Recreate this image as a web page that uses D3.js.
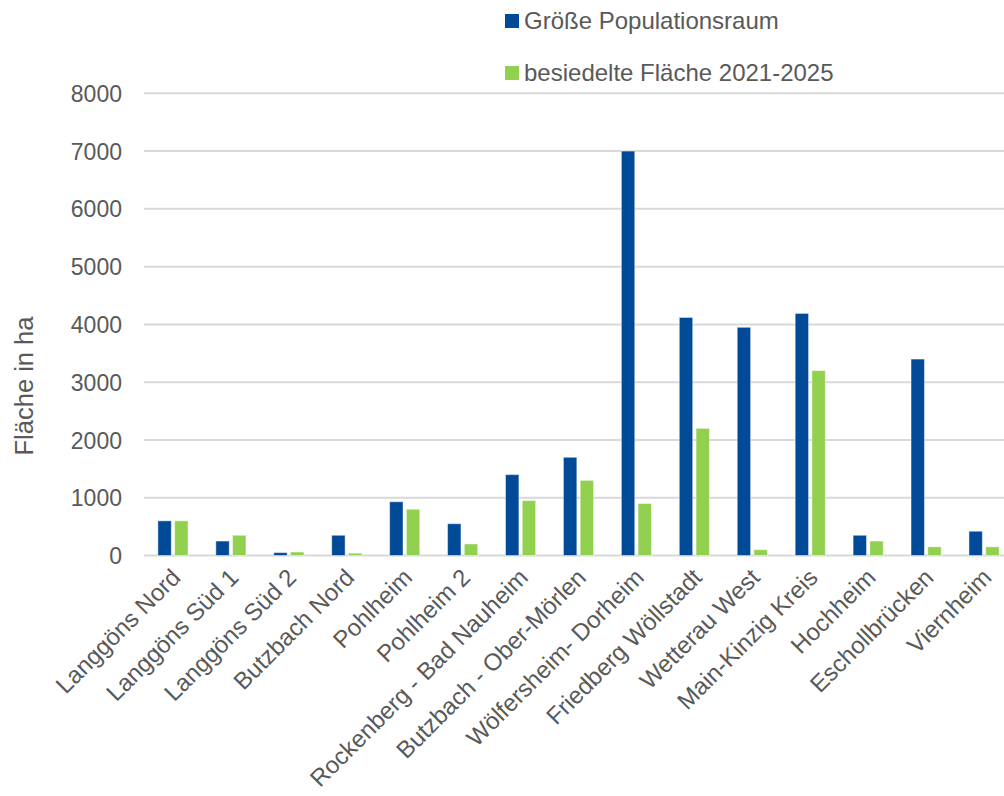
<!DOCTYPE html>
<html>
<head>
<meta charset="utf-8">
<script src="https://cdn.jsdelivr.net/npm/d3@7"></script>
<style>
  html, body { margin: 0; padding: 0; background: #fff; }
  svg { display: block; font-family: "Liberation Sans", Arial, sans-serif; }
</style>
</head>
<body>
<svg id="chart" width="1004" height="796"></svg>
<script>
// Gebiete (Kategorien der x-Achse)
const categories = [
  "Langgöns Nord", "Langgöns Süd 1", "Langgöns Süd 2", "Butzbach Nord",
  "Pohlheim", "Pohlheim 2", "Rockenberg - Bad Nauheim", "Butzbach - Ober-Mörlen",
  "Wölfersheim- Dorheim", "Friedberg Wöllstadt", "Wetterau West",
  "Main-Kinzig Kreis", "Hochheim", "Eschollbrücken", "Viernheim"
];

// Reihen (Fläche in ha)
const seriesNames = ["Größe Populationsraum", "besiedelte Fläche 2021-2025"];
const populationsraum = [600, 250, 50, 350, 930, 550, 1400, 1700, 7000, 4120, 3950, 4190, 350, 3400, 420];
const besiedelt = [600, 350, 60, 40, 800, 200, 950, 1300, 900, 2200, 100, 3200, 250, 150, 150];

const yTicks = [0, 1000, 2000, 3000, 4000, 5000, 6000, 7000, 8000];
const colors = ["#004A98", "#92D050"];
const yTitle = "Fläche in ha";

const svg = d3.select("#chart");
const textColor = "#595959";

const x0 = d3.scaleBand().domain(categories).range([144, 1013])
  .paddingInner(0.48).paddingOuter(0.24);
const x1 = d3.scaleBand().domain(seriesNames).range([0, x0.bandwidth()])
  .paddingInner(0.2);
const y = d3.scaleLinear().domain([0, 8000]).range([555.5, 93.3]);

// Gitterlinien
svg.append("g")
  .selectAll("line")
  .data(yTicks)
  .join("line")
  .attr("x1", 144).attr("x2", 1004)
  .attr("y1", d => y(d)).attr("y2", d => y(d))
  .attr("stroke", "#d9d9d9").attr("stroke-width", 2);

// y-Achse
const yAxis = d3.axisLeft(y).tickValues(yTicks).tickSize(0).tickPadding(0)
  .tickFormat(d3.format("d"));
svg.append("g")
  .attr("transform", "translate(122,0)")
  .call(yAxis)
  .call(g => g.select(".domain").remove())
  .call(g => g.selectAll("text")
    .attr("fill", textColor)
    .attr("font-size", "23px")
    .attr("font-family", "Liberation Sans, Arial, sans-serif")
    .attr("dy", "0.35em"));

// Balken
const rows = categories.map((c, i) => ({ c, v: [populationsraum[i], besiedelt[i]] }));
const groups = svg.append("g").selectAll("g")
  .data(rows)
  .join("g")
  .attr("transform", d => `translate(${x0(d.c)},0)`);
groups.selectAll("rect")
  .data(d => d.v.map((v, k) => ({ s: seriesNames[k], v, k })))
  .join("rect")
  .attr("x", d => x1(d.s))
  .attr("width", x1.bandwidth())
  .attr("y", d => y(d.v))
  .attr("height", d => y(0) - y(d.v))
  .attr("fill", d => colors[d.k])
  .attr("stroke", "#ffffff").attr("stroke-opacity", 0.45).attr("stroke-width", 1);

// x-Achsenbeschriftungen
svg.append("g")
  .selectAll("text")
  .data(categories)
  .join("text")
  .attr("transform", d => `translate(${x0(d) + x0.bandwidth() / 2 + 3},573) rotate(-45)`)
  .attr("text-anchor", "end")
  .attr("dy", "0.35em")
  .attr("fill", textColor)
  .attr("font-size", "24px")
  .text(d => d);

// Achsentitel
svg.append("text")
  .attr("transform", "translate(33,386) rotate(-90)")
  .attr("text-anchor", "middle")
  .attr("fill", textColor)
  .attr("font-size", "25.5px")
  .text(yTitle);

// Legende
const legend = svg.append("g").selectAll("g")
  .data(seriesNames)
  .join("g")
  .attr("transform", (d, i) => `translate(505,${14 + i * 52})`);
legend.append("rect")
  .attr("width", 14).attr("height", 14)
  .attr("fill", (d, i) => colors[i]);
legend.append("text")
  .attr("x", 19).attr("y", 15)
  .attr("fill", textColor)
  .attr("font-size", "24px")
  .text(d => d);
</script>
</body>
</html>
